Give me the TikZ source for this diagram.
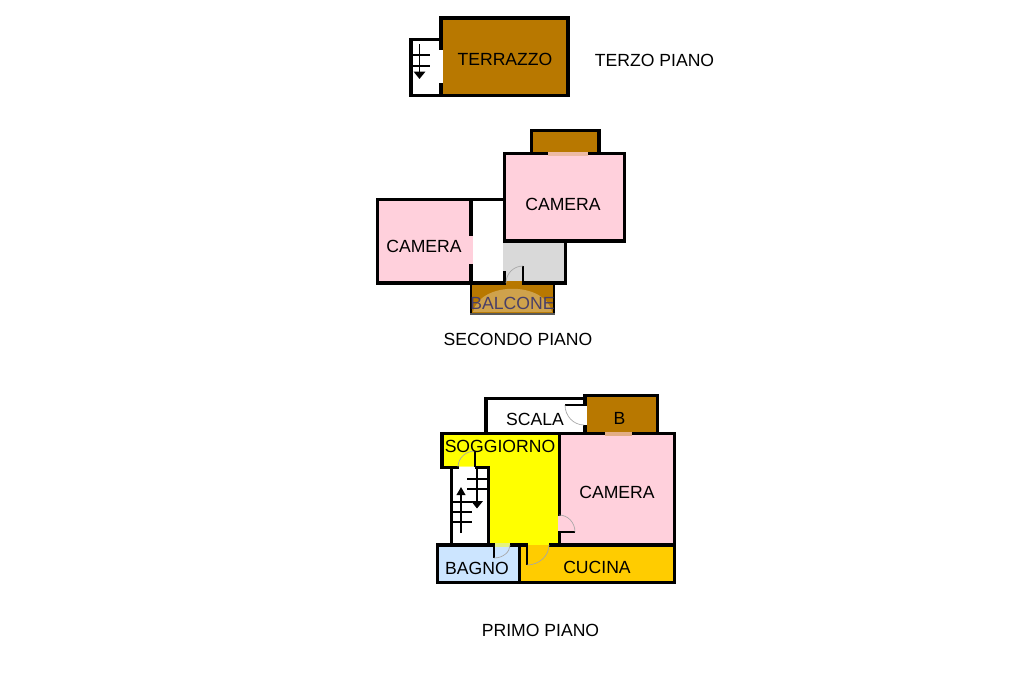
\documentclass[tikz,border=0pt]{standalone}
\usepackage{fontspec}
\setmainfont{Liberation Sans}
\definecolor{brownroom}{HTML}{B87800}
\definecolor{pinkroom}{HTML}{FFD0DC}
\definecolor{greyroom}{HTML}{D9D9D9}
\definecolor{blueroom}{HTML}{CCE5FF}
\definecolor{kitchen}{HTML}{FFCC00}
\definecolor{dome}{HTML}{CFA24C}
\definecolor{livingroom}{HTML}{FFFF00}
\definecolor{balconetext}{HTML}{4A4068}
\usetikzlibrary{arrows.meta}
\tikzset{
  wall/.style={draw=black,line width=2.5pt,line join=miter,line cap=rect},
  leaf/.style={draw=black,line width=1.1pt},
  swing/.style={draw=black!35,line width=0.5pt},
  stairline/.style={draw=black,line width=0.8pt},
  run/.style={draw=black,line width=1.2pt,-{Triangle[width=8.5pt,length=5.5pt]}},
  runup/.style={draw=black,line width=1.2pt,-{Triangle[width=6.5pt,length=6pt]}},
  label/.style={font=\fontsize{13.2pt}{15pt}\selectfont,text=black,inner sep=0pt}
}
\begin{document}
\begin{tikzpicture}[x=0.75pt,y=-0.75pt]
\useasboundingbox (0,0) rectangle (1024,682);
\fill[white] (0,0) rectangle (1024,682);

% --- TERZO PIANO
\fill[brownroom] (441,18) rectangle (568,95);
\draw[wall] (441,18) rectangle (568,95.5);
\draw[wall] (441,39.5) -- (411,39.5) -- (411,95.5) -- (441,95.5);
\fill[white] (439,50) rectangle (443,83);
\draw[run] (419.5,44) -- (419.5,79);
\draw[stairline] (412,55) -- (430,55) (412,66) -- (430,66);
\node[label] (terrazzo) at (505,59.5) {TERRAZZO};
\node[label] (terzo) at (654.5,60.5) {TERZO PIANO};

% --- SECONDO PIANO
\fill[brownroom] (531.5,130.5) rectangle (598.5,153);
\draw[wall] (531.5,153) -- (531.5,130.5) -- (599,130.5) -- (599,153);
\fill[pinkroom] (504.5,153.5) rectangle (624.5,241);
\fill[greyroom] (504.5,241) rectangle (565.5,283);
\fill[pinkroom] (377.5,199.5) rectangle (471,283);
\fill[brownroom] (471,284) rectangle (554,313);
\draw[wall] (504.5,153.5) rectangle (624.5,241);
\draw[wall] (377.5,199.5) rectangle (471,283);
\draw[wall] (471,199.5) -- (504.5,199.5);
\draw[wall] (565.5,241) -- (565.5,283) -- (471,283);
\draw[wall] (504.5,272) -- (504.5,283);
\fill[greyroom] (502.5,243) rectangle (507,271);
\fill[pinkroom!75!brownroom] (548,151.5) rectangle (588,155.5);
\fill[pinkroom] (469,236) rectangle (473,264);
\fill[brownroom] (506,281) rectangle (522,285);
\draw[leaf] (523,266) -- (523,283);
\draw[swing] (523,266) .. controls (513.6,266) and (506,273.6) .. (506,283);
\draw[wall,line width=1.8pt] (471,284) -- (471,314);
\draw[wall,line width=1.8pt] (554,284) -- (554,314);
\fill[dome] (473,312) .. controls (480,281) and (545,281) .. (552,312) -- cycle;
\draw[draw=black!65,line width=2.2pt] (470,314) -- (555,314);
\node[label,text=balconetext] (balcone) at (512.5,303) {BALCONE};
\node[label] (cameraA) at (563,204.5) {CAMERA};
\node[label] (cameraB) at (424,246.5) {CAMERA};
\node[label] (secondo) at (518,339.5) {SECONDO PIANO};

% --- PRIMO PIANO
\fill[livingroom] (441.5,433.5) rectangle (559.5,467.5);
\fill[livingroom] (488.5,433.5) rectangle (559.5,545);
\fill[pinkroom] (559.5,433.5) rectangle (674.5,545);
\fill[kitchen] (519.5,545) rectangle (674.5,582.5);
\fill[blueroom] (437.5,545) rectangle (519.5,582.5);
\fill[brownroom] (585,396) rectangle (657.5,433);
% walls
\draw[wall] (486,433.5) -- (486,398.5) -- (585,398.5);
\draw[wall] (585,433.5) -- (585,395.5) -- (657.5,395.5) -- (657.5,433.5);
\draw[wall] (442,467.5) -- (442,433.5) -- (674.5,433.5) -- (674.5,582.5) -- (437.5,582.5) -- (437.5,545) -- (674.5,545);
\draw[wall] (442,467.5) -- (488.5,467.5) -- (488.5,545);
\draw[wall] (451.5,467.5) -- (451.5,545);
\draw[wall] (559.5,433.5) -- (559.5,545);
\draw[wall] (519.5,545) -- (519.5,582.5);
% openings
\fill[pinkroom!60!brownroom] (605,431.5) rectangle (632,435.5);
\fill[white] (582.5,406) rectangle (587,425);
\fill[white] (459,465.5) rectangle (475,469.5);
\fill[livingroom!60!white] (459,465.5) rectangle (475,467);
\fill[livingroom!50!blueroom] (495,543) rectangle (510,547);
\fill[kitchen] (528,543) rectangle (549,547.5);
\fill[livingroom] (528,543) rectangle (549,544.5);
\fill[pinkroom] (557.5,516) rectangle (561.5,531);
% doors
\draw[leaf] (565,405) -- (584,405);
\draw[swing] (565,405) .. controls (565,416) and (573.5,425) .. (584,425);
\draw[leaf] (475,451) -- (475,467);
\draw[swing] (475,451) .. controls (465.6,451) and (458,458.2) .. (458,467);
\draw[leaf] (494,545) -- (494,558);
\draw[swing] (494,558) .. controls (502.8,558) and (510,552.2) .. (510,545);
\draw[leaf] (527,545) -- (527,565);
\draw[swing] (527,565) .. controls (539,565) and (549,556) .. (549,545);
\draw[leaf] (559,532) -- (575,532);
\draw[swing] (575,532) .. controls (575,522.6) and (568,515) .. (559,515);
% stairs
\draw[run] (477,468) -- (477,508.5);
\draw[stairline] (467,479) -- (487,479) (467,489) -- (487,489);
\draw[runup] (461,533) -- (461,487);
\draw[stairline] (453,502) -- (472,502) (453,512) -- (472,512) (453,522) -- (472,522);
\node[label] (scala) at (535,419.5) {SCALA};
\node[label] (bagnob) at (619.5,418) {B};
\node[label] (soggiorno) at (500,446) {SOGGIORNO};
\node[label] (cameraC) at (617,492.5) {CAMERA};
\node[label] (bagno) at (477,568.5) {BAGNO};
\node[label] (cucina) at (597,567.5) {CUCINA};
\node[label] (primo) at (540.5,630.5) {PRIMO PIANO};
\end{tikzpicture}
\end{document}
